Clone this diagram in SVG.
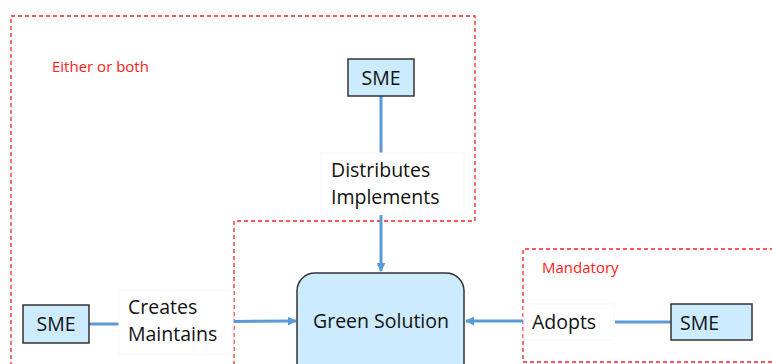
<svg xmlns="http://www.w3.org/2000/svg" width="772" height="364" viewBox="0 0 772 364">
<defs>
<marker id="arr" viewBox="0 0 10 10" refX="9" refY="5" markerWidth="3" markerHeight="3" orient="auto" markerUnits="strokeWidth">
<path d="M0,0 L10,5 L0,10 z" fill="#5B9BD5"/>
</marker>
<style>
.t{font-family:"Open Sans","Liberation Sans",sans-serif;font-size:19.5px;fill:#111}
.r{font-family:"Open Sans","Liberation Sans",sans-serif;font-size:15px;fill:#FF2020}
.zone{fill:none;stroke:#FF2020;stroke-width:1.3;stroke-dasharray:4 3}
.sme{fill:#CCEBFF;stroke:#333;stroke-width:1.5}
.lbl{fill:#fff;stroke:#f7f7f7;stroke-width:1}
.c{fill:none;stroke:#5B9BD5;stroke-width:3}
</style>
</defs>
<rect width="772" height="364" fill="#fff"/>
<g id="zone-either">
<path class="zone" d="M11,366 L11,16 L475,16 L475,221 L234,221 L234,366"/>
<text class="r" x="52" y="72">Either or both</text>
</g>
<g id="zone-mandatory">
<path class="zone" d="M774,249 L523,249 L523,362 L774,362"/>
<text class="r" x="542" y="273">Mandatory</text>
</g>
<g id="connectors">
<line class="c" x1="381" y1="96" x2="381" y2="153"/>
<line class="c" x1="381" y1="215" x2="381" y2="271" marker-end="url(#arr)"/>
<line class="c" x1="89" y1="324" x2="119" y2="324"/>
<line class="c" x1="234" y1="321.5" x2="296" y2="321" marker-end="url(#arr)"/>
<line class="c" x1="523" y1="321" x2="466" y2="321" marker-end="url(#arr)"/>
<line class="c" x1="615" y1="322" x2="671" y2="322"/>
</g>
<g id="sme-top">
<rect class="sme" x="348" y="59" width="66" height="37"/>
<text class="t" x="381" y="85" text-anchor="middle">SME</text>
</g>
<g id="label-distributes">
<rect class="lbl" x="321" y="153" width="143" height="61"/>
<text class="t" x="331" y="177">Distributes</text>
<text class="t" x="331" y="204">Implements</text>
</g>
<g id="green-solution">
<rect x="297" y="273" width="167" height="110" rx="18" fill="#CCEBFF" stroke="#333" stroke-width="1.5"/>
<text class="t" x="381" y="328" text-anchor="middle">Green Solution</text>
</g>
<g id="sme-left">
<rect class="sme" x="23" y="305" width="66" height="38"/>
<text class="t" x="56" y="331" text-anchor="middle">SME</text>
</g>
<g id="label-creates">
<rect class="lbl" x="119" y="290" width="114" height="64"/>
<text class="t" x="128" y="314">Creates</text>
<text class="t" x="128" y="341">Maintains</text>
</g>
<g id="label-adopts">
<rect class="lbl" x="524" y="304" width="90" height="36"/>
<text class="t" x="532" y="329">Adopts</text>
</g>
<g id="sme-right">
<rect class="sme" x="671" y="304" width="81" height="36"/>
<text class="t" x="680" y="330">SME</text>
</g>
</svg>
